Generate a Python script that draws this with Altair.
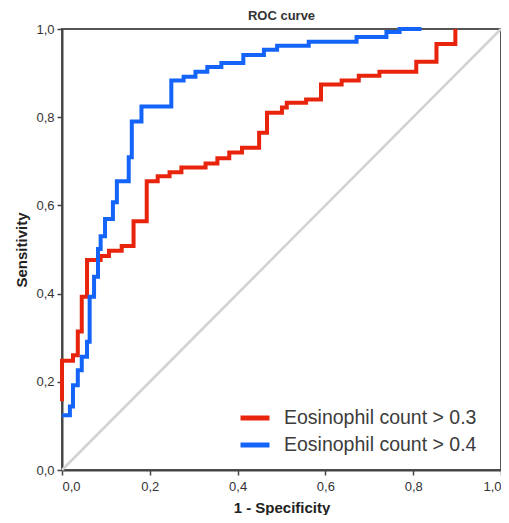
import altair as alt
import pandas as pd

# ROC curve vertices (1 - specificity, sensitivity), step-after
red_x = [0.0, 0.0, 0.025, 0.036, 0.045, 0.057, 0.088, 0.107, 0.136, 0.163, 0.193, 0.218,
         0.245, 0.272, 0.327, 0.354, 0.381, 0.410, 0.449, 0.467, 0.501, 0.512, 0.556,
         0.590, 0.637, 0.676, 0.723, 0.807, 0.853, 0.896]
red_y = [0.156, 0.248, 0.260, 0.314, 0.393, 0.476, 0.485, 0.497, 0.508, 0.564, 0.655, 0.666,
         0.675, 0.686, 0.695, 0.707, 0.720, 0.731, 0.765, 0.810, 0.822, 0.833, 0.840,
         0.874, 0.883, 0.894, 0.903, 0.926, 0.966, 1.0]

blue_x = [0.0, 0.018, 0.025, 0.036, 0.045, 0.057, 0.063, 0.073, 0.082, 0.088, 0.098, 0.116,
          0.125, 0.152, 0.159, 0.181, 0.249, 0.277, 0.304, 0.331, 0.363, 0.413, 0.460,
          0.490, 0.562, 0.671, 0.739, 0.769, 0.819]
blue_y = [0.124, 0.144, 0.192, 0.226, 0.257, 0.291, 0.393, 0.438, 0.501, 0.530, 0.569, 0.607,
          0.655, 0.709, 0.790, 0.824, 0.883, 0.892, 0.903, 0.914, 0.923, 0.941, 0.953,
          0.962, 0.971, 0.982, 0.993, 1.0, 1.0]

diag_x = [0.0, 1.0]
diag_y = [0.0, 1.0]

series_names = ["Eosinophil count > 0.3", "Eosinophil count > 0.4"]
series_colors = ["#E8250C", "#1464FA"]
tick_values = [0.0, 0.2, 0.4, 0.6, 0.8, 1.0]

rows = []
for name, xs, ys in [(series_names[0], red_x, red_y), (series_names[1], blue_x, blue_y)]:
    for i, (a, b) in enumerate(zip(xs, ys)):
        rows.append({"series": name, "fpr": a, "tpr": b, "idx": i})
curves = pd.DataFrame(rows)
diag = pd.DataFrame({"fpr": diag_x, "tpr": diag_y})

W, H = 439, 441
label_expr = "replace(format(datum.value, '.1f'), '.', ',')"

x_scale = alt.Scale(domain=[0, 1], nice=False, zero=False)
y_scale = alt.Scale(domain=[0, 1], nice=False, zero=False)

x_axis = alt.Axis(values=tick_values, labelExpr=label_expr, grid=False,
                  title="1 - Specificity", titleX=W / 2, titleY=37,
                  titleBaseline="middle", titleAlign="center", labelPadding=5)
y_axis = alt.Axis(values=tick_values, labelExpr=label_expr, grid=False,
                  title="Sensitivity", titleX=-41, titleY=H / 2, titleAngle=-90,
                  titleBaseline="middle", titleAlign="center", labelPadding=3)

diag_layer = alt.Chart(diag).mark_line(color="#d2d2d2", strokeWidth=2.5).encode(
    x=alt.X("fpr:Q", scale=x_scale, axis=x_axis),
    y=alt.Y("tpr:Q", scale=y_scale, axis=y_axis),
)

curve_layer = alt.Chart(curves).mark_line(strokeWidth=4, interpolate="step-after").encode(
    x=alt.X("fpr:Q", scale=x_scale),
    y=alt.Y("tpr:Q", scale=y_scale),
    order=alt.Order("idx:Q"),
    color=alt.Color(
        "series:N",
        scale=alt.Scale(domain=series_names, range=series_colors),
        legend=alt.Legend(
            title=None, orient="none", legendX=176, legendY=372,
            symbolType="stroke", symbolSize=841, symbolStrokeWidth=5,
            labelFontSize=19.5, labelColor="#3c3c3c", labelOffset=12,
            rowPadding=-2, labelFont="Liberation Sans", labelLimit=400,
        ),
    ),
)

chart = alt.layer(diag_layer, curve_layer).properties(
    width=W,
    height=H,
    title=alt.TitleParams("ROC curve", fontSize=13, fontWeight="bold", color="#333333",
                          font="Liberation Sans", offset=2, dy=4, anchor="middle"),
    autosize=alt.AutoSizeParams(type="none"),
    padding={"left": 54, "top": 21, "right": 0, "bottom": 45},
).configure_view(
    stroke="#555555", strokeWidth=2
).configure_axis(
    labelFont="Liberation Sans", labelFontSize=13, labelColor="#333333",
    titleFont="Liberation Sans", titleFontSize=15, titleFontWeight="bold", titleColor="#222222",
    domainColor="#444444", domainWidth=2, tickColor="#444444", tickWidth=1.5, tickSize=5,
)

chart.save("out.html", embed_options={"renderer": "svg", "actions": False})
